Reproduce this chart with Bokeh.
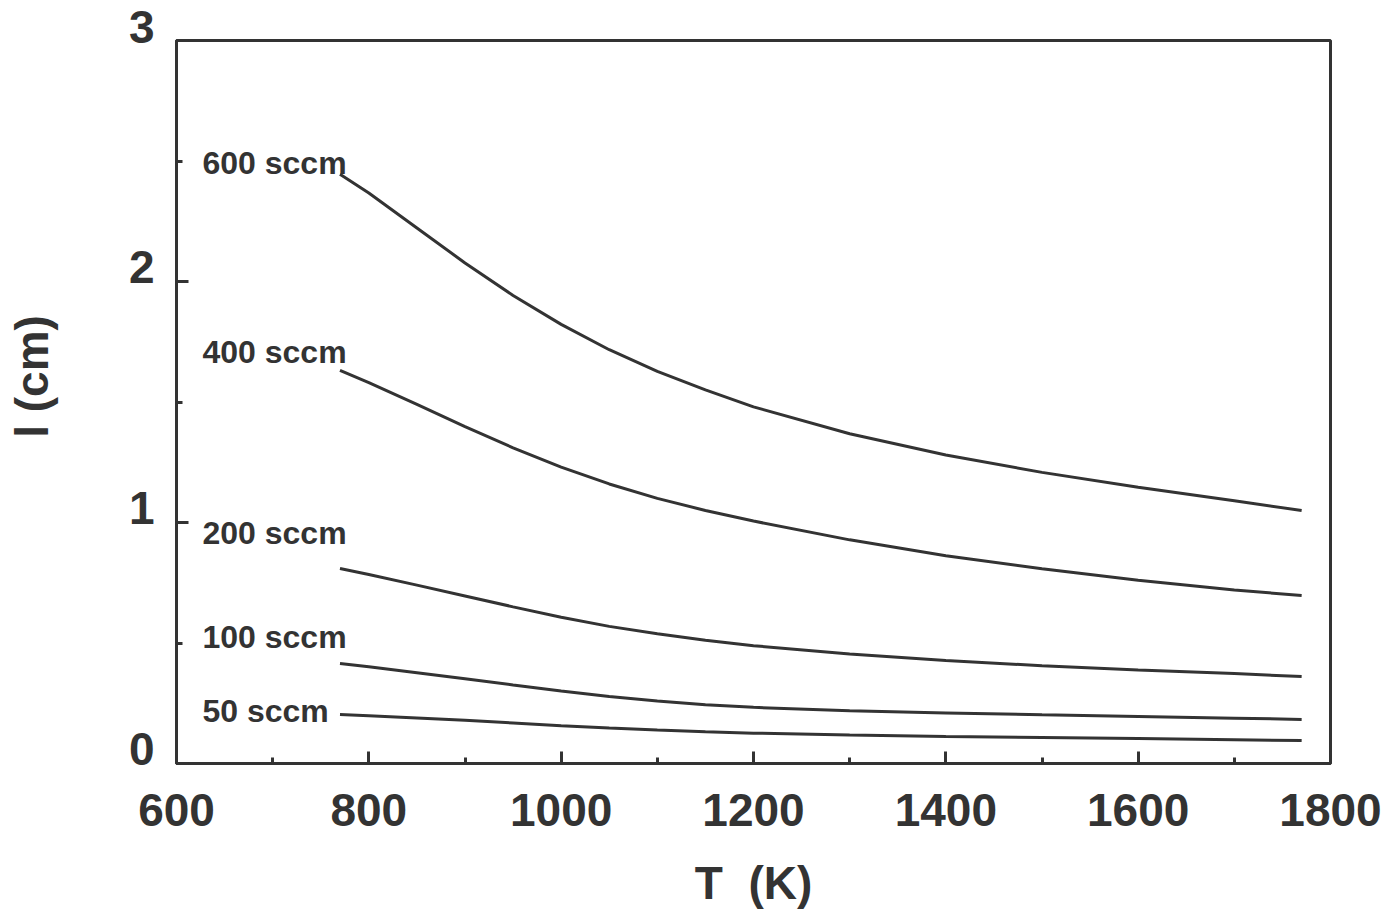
from bokeh.plotting import figure
from bokeh.models import FixedTicker, Range1d
from bokeh.core.properties import value
from bokeh.embed import file_html
from bokeh.resources import INLINE

# ---- data ----
T = [770, 800, 850, 900, 950, 1000, 1050, 1100, 1150, 1200, 1300, 1400, 1500, 1600, 1700, 1770]
l_600 = [2.445, 2.367, 2.222, 2.077, 1.942, 1.822, 1.717, 1.627, 1.550, 1.480, 1.368, 1.280, 1.208, 1.146, 1.090, 1.050]
l_400 = [1.631, 1.580, 1.490, 1.398, 1.310, 1.230, 1.160, 1.100, 1.050, 1.006, 0.928, 0.862, 0.808, 0.760, 0.720, 0.697]
l_200 = [0.809, 0.784, 0.740, 0.695, 0.650, 0.607, 0.569, 0.538, 0.511, 0.489, 0.454, 0.427, 0.406, 0.388, 0.373, 0.361]
l_100 = [0.415, 0.401, 0.377, 0.352, 0.326, 0.301, 0.278, 0.259, 0.244, 0.233, 0.219, 0.210, 0.202, 0.195, 0.188, 0.183]
l_50 = [0.203, 0.198, 0.189, 0.179, 0.168, 0.157, 0.147, 0.139, 0.132, 0.126, 0.118, 0.112, 0.108, 0.104, 0.099, 0.095]

series = [l_600, l_400, l_200, l_100, l_50]
series_labels = ["600 sccm", "400 sccm", "200 sccm", "100 sccm", "50 sccm"]
label_T = [627, 627, 627, 627, 627]
label_l = [2.452, 1.664, 0.913, 0.485, 0.178]

x_major = [600, 800, 1000, 1200, 1400, 1600, 1800]
x_minor = [700, 900, 1100, 1300, 1500, 1700]
y_major = [0, 1, 2, 3]
y_major_text = ["0", "1", "2", "3"]
y_minor = [0.5, 1.5, 2.5]

INK = "#333333"
FONT = "Liberation Sans"

p = figure(width=1392, height=912, output_backend="svg", toolbar_location=None,
           x_range=Range1d(600, 1800), y_range=Range1d(0, 3),
           min_border_left=176, min_border_right=62, min_border_top=40, min_border_bottom=149)
p.background_fill_color = "white"
p.border_fill_color = "white"
p.grid.visible = False
p.outline_line_color = INK
p.outline_line_width = 3

for ys in series:
    p.line(T, ys, line_color=INK, line_width=3)

p.text(x=label_T, y=label_l, text=series_labels, text_font=value(FONT),
       text_font_style="bold", text_font_size="32px", text_color=INK,
       text_align="left", text_baseline="alphabetic", y_offset=-10)

for ax in (p.xaxis[0], p.yaxis[0]):
    ax.axis_line_color = INK
    ax.axis_line_width = 3
    ax.major_tick_line_color = INK
    ax.major_tick_line_width = 3
    ax.minor_tick_line_color = INK
    ax.minor_tick_line_width = 3
    ax.major_tick_in = 12
    ax.major_tick_out = 0
    ax.minor_tick_in = 6
    ax.minor_tick_out = 0
    ax.major_label_text_font = FONT
    ax.major_label_text_font_style = "bold"
    ax.major_label_text_color = INK
    ax.axis_label_text_font = FONT
    ax.axis_label_text_font_style = "bold"
    ax.axis_label_text_color = INK

p.xaxis[0].ticker = FixedTicker(ticks=x_major, minor_ticks=x_minor)
p.yaxis[0].ticker = FixedTicker(ticks=y_major, minor_ticks=y_minor)

p.xaxis[0].major_label_text_font_size = "46px"
p.xaxis[0].major_label_standoff = 30
# y tick labels sit just above their ticks in the reference: a second empty
# line with a reduced line height lifts each label.
p.yaxis[0].major_label_overrides = {v: t + "\n" for v, t in zip(y_major, y_major_text)}
p.yaxis[0].major_label_text_font_size = "46px"
p.yaxis[0].major_label_text_line_height = 0.56
p.yaxis[0].major_label_standoff = 22

p.xaxis[0].axis_label = "T\u00a0\u00a0(K)"
p.yaxis[0].axis_label = "\u00a0\u00a0\u00a0\u00a0l (cm)"
p.xaxis[0].axis_label_text_font_size = "46px"
p.yaxis[0].axis_label_text_font_size = "46px"
p.xaxis[0].axis_label_standoff = 28
p.yaxis[0].axis_label_standoff = 68

open("out.html", "w").write(file_html(p, INLINE))
